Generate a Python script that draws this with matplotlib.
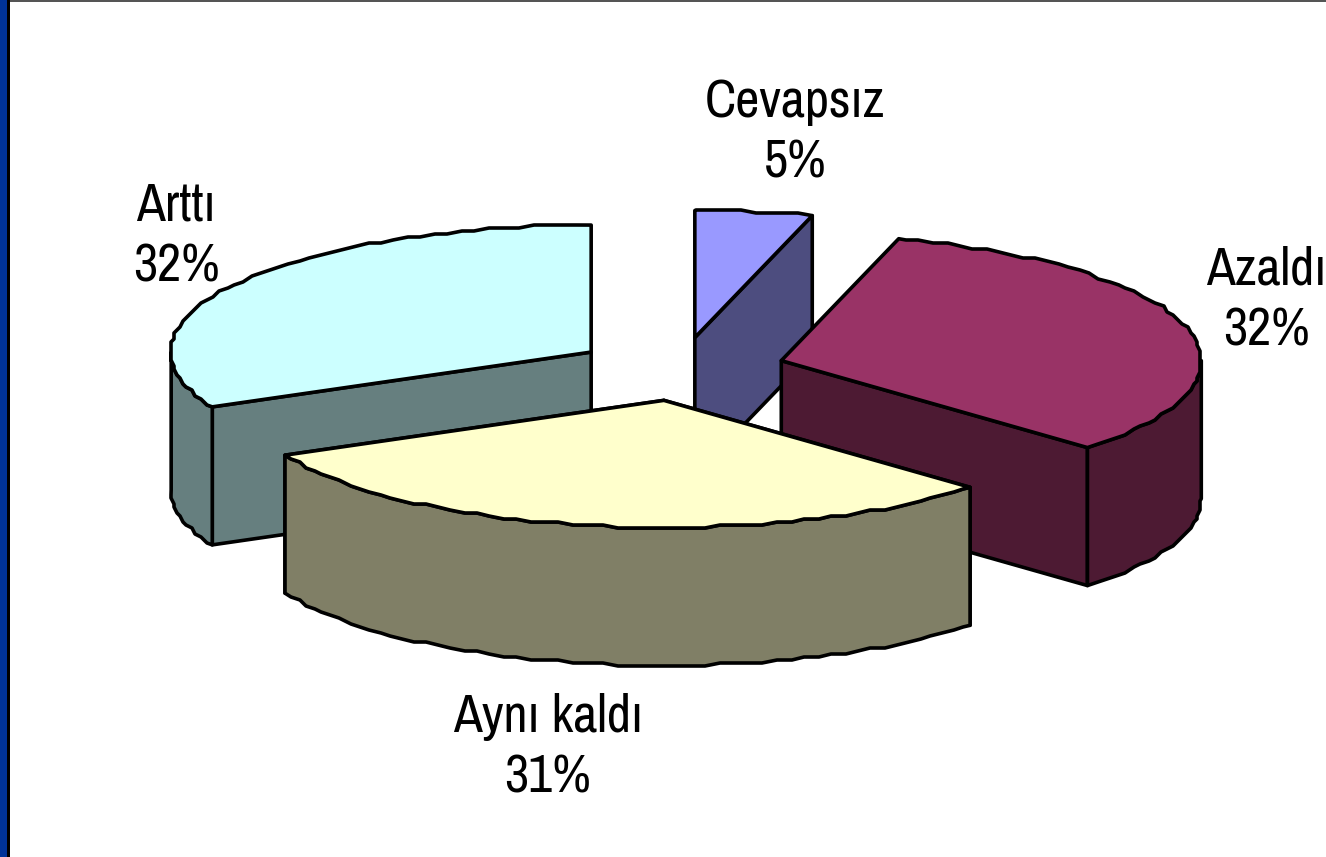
import numpy as np
import matplotlib
matplotlib.use("Agg")
import matplotlib.pyplot as plt
from matplotlib.patches import Polygon, Rectangle

plt.rcParams['font.family'] = ['Archivo Narrow', 'Liberation Sans']

categories = ["Arttı", "Aynı kaldı", "Azaldı", "Cevapsız"]
values = [32.1, 30.9, 32.49, 4.51]
top_colors = ["#CCFFFF", "#FFFFCC", "#993366", "#9999FF"]
side_colors = ["#667F7F", "#807F66", "#4D1A33", "#4D4D7F"]

# layout of the fake 3d pie, in pixels
cx, cy = 680, 369
rx, ry = 420, 127
depth = 138
explode = 0.25
start = 90
grid = 3  # the original outline is bumpy


def arc(c, t0, t1):
    t = np.radians(np.arange(t0, t1, 2.0).tolist() + [t1])
    x = c[0] + rx * np.cos(t)
    y = c[1] - ry * np.sin(t)
    # snap the inner points so the edge gets the stair look
    x[1:-1] = np.round(x[1:-1] / grid) * grid
    y[1:-1] = np.round(y[1:-1] / grid) * grid
    return np.column_stack([x, y])


def pt(c, t):
    t = np.radians(t)
    return np.array([c[0] + rx * np.cos(t), c[1] - ry * np.sin(t)])


fig = plt.figure(figsize=(13.26, 8.57), dpi=100)
ax = fig.add_axes([0, 0, 1, 1])
ax.set_xlim(0, 1326)
ax.set_ylim(857, 0)
ax.axis("off")

ax.add_patch(Rectangle((0, 0), 7, 857, fc="#003399", ec="none"))
ax.add_patch(Rectangle((7, 0), 3, 857, fc="black", ec="none"))
ax.add_patch(Rectangle((10, 0), 1316, 2, fc="#555555", ec="none"))

bounds = start + np.cumsum([0] + values) * 3.6
down = np.array([0, depth])
style = dict(ec="black", lw=2.6, joinstyle="round")

slices = []
for i in range(len(values)):
    t0, t1 = bounds[i], bounds[i + 1]
    mid = np.radians((t0 + t1) / 2)
    c = np.array([cx + explode * rx * np.cos(mid), cy - explode * ry * np.sin(mid)])
    slices.append((i, t0, t1, c))

# back slices first so the front ones cover them
for i, t0, t1, c in [slices[3], slices[0], slices[2], slices[1]]:
    # cut faces which look at the viewer
    for t in (t0, t1):
        p = pt(c, t)
        if p[1] > c[1] - 1e-6 or (t % 360) < 90 and t == t0:
            ax.add_patch(Polygon([c, p, p + down, c + down], fc=side_colors[i], **style))
    # outer wall, only the part in the front half
    a0, a1 = max(t0, 180), min(t1, 360)
    if a0 < a1:
        top = arc(c, a0, a1)
        ax.add_patch(Polygon(np.vstack([top, (top + down)[::-1]]), fc=side_colors[i], **style))
    outline = np.vstack([[c], arc(c, t0, t1)])
    ax.add_patch(Polygon(outline, fc=top_colors[i], **style))

label_pos = [(176, 236), (548, 747), (1266, 300), (795, 132)]
for name, v, (x, y) in zip(categories, values, label_pos):
    ax.text(x, y, f"{name}\n{round(v)}%", ha="center", va="center", fontsize=38, linespacing=1.33, color="black")

fig.savefig("out.png", dpi=100)
